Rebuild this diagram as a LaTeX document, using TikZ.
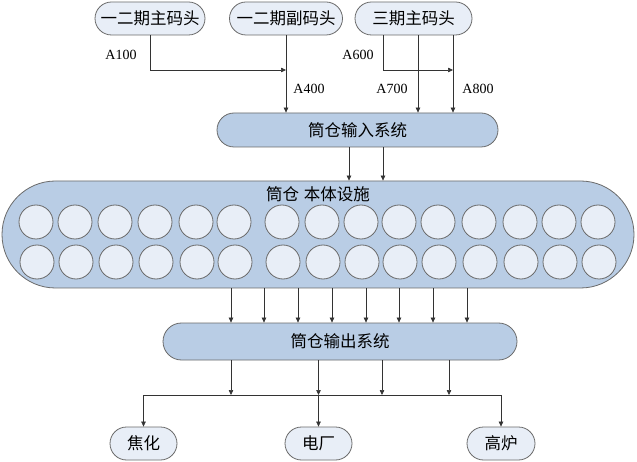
\documentclass[tikz,border=0pt]{standalone}
\usepackage{fontspec}
\setmainfont{Liberation Serif}
\newfontfamily\cjk{Noto Sans CJK SC}
\usetikzlibrary{shapes.misc,arrows.meta}
\definecolor{lightfill}{HTML}{E8EEF7}
\definecolor{midfill}{HTML}{B9CDE5}
\definecolor{edgegray}{HTML}{6A6A6A}
\definecolor{linegray}{HTML}{333333}
\tikzset{
  pill/.style={rounded rectangle, draw=edgegray, line width=0.8pt, inner sep=0pt,
    font=\cjk\fontsize{16.5}{16.5}\selectfont},
  endpt/.style={pill, fill=lightfill, minimum height=33pt},
  sysbox/.style={pill, fill=midfill},
  silo/.style={circle, draw=edgegray, line width=0.8pt, fill=lightfill, minimum size=34pt, inner sep=0pt},
  arr/.style={draw=linegray, line width=0.6pt, -{Triangle[length=5pt,width=4.5pt]}},
  ln/.style={draw=linegray, line width=0.6pt},
  lbl/.style={font=\fontsize{14}{14}\selectfont, inner sep=0pt}
}
\begin{document}
\begin{tikzpicture}[x=1pt,y=-1pt]
\useasboundingbox (0,0) rectangle (637,462);
% top sources
\node[endpt, minimum width=110pt] (t1) at (150,18.5) {一二期主码头};
\node[endpt, minimum width=113pt] (t2) at (286,18.5) {一二期副码头};
\node[endpt, minimum width=117pt] (t3) at (413.5,18.5) {三期主码头};
% input system
\node[sysbox, minimum width=281pt, minimum height=34pt] (in) at (357.5,130) {筒仓输入系统};
% body
\node[sysbox, minimum width=632pt, minimum height=107pt] (body) at (318,234.5) {};
\node[font=\cjk\fontsize{16.5}{16.5}\selectfont, inner sep=0pt] (title) at (318,194) {筒仓\hspace{0.3em}本体设施};
\foreach \x [count=\i] in {36,75,115,155,196,234,282,322,361,399,438,479,520,559,598}{
  \node[silo] (ca\i) at (\x,222) {};
  \node[silo] (cb\i) at (\x+1,262) {};
}
% output system
\node[sysbox, minimum width=354pt, minimum height=37pt] (out) at (340,341.5) {筒仓输出系统};
% consumers
\node[endpt, minimum width=67pt] (b1) at (143.5,443.5) {焦化};
\node[endpt, minimum width=67pt] (b2) at (318.5,443.5) {电厂};
\node[endpt, minimum width=68pt] (b3) at (501,443.5) {高炉};
% junctions
\coordinate (j1) at (286,70);
\coordinate (j2) at (453,70);
\coordinate (busL) at (143.5,395);
\coordinate (busR) at (501,395);
% input connectors
\draw[arr] (t1.south) |- (j1);
\draw[arr] (t2.south) -- (t2.south |- in.north);
\draw[arr] ([xshift=-30.5pt]t3.south) |- (j2);
\draw[arr] ([xshift=4.5pt]t3.south) -- ([xshift=4.5pt]t3.south |- in.north);
\draw[arr] ([xshift=39.5pt]t3.south) -- ([xshift=39.5pt]t3.south |- in.north);
\draw[arr] (349,0 |- in.south) -- (349,0 |- body.north);
\draw[arr] (383,0 |- in.south) -- (383,0 |- body.north);
% labels
\node[lbl] (l100) at (121,55) {A100};
\node[lbl] (l400) at (309,89) {A400};
\node[lbl] (l600) at (358,55) {A600};
\node[lbl] (l700) at (392,89) {A700};
\node[lbl] (l800) at (478,89) {A800};
% body to output
\foreach \x in {231,264,298,332,366,399,433,467}
  \draw[arr] (\x,0 |- body.south) -- (\x,0 |- out.north);
% output to bus
\foreach \x in {231,318.5,382,449}
  \draw[arr] (\x,0 |- out.south) -- (\x,0 |- busL);
\draw[ln] (busL) -- (busR);
\draw[arr] (busL) -- (b1.north);
\draw[arr] (b2.north |- busL) -- (b2.north);
\draw[arr] (busR) -- (b3.north);
\end{tikzpicture}
\end{document}
